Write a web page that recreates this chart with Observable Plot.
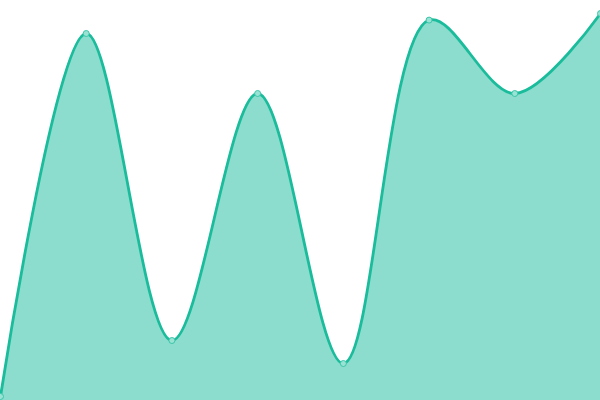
<!DOCTYPE html>
<html>
<head>
<meta charset="utf-8">
<script src="https://cdn.jsdelivr.net/npm/d3@7"></script>
<script src="https://cdn.jsdelivr.net/npm/@observablehq/plot@0.6"></script>
<style>
html, body { margin: 0; padding: 0; background: #fff; }
</style>
</head>
<body>
<div id="chart"></div>
<script>
const xs = [0, 1, 2, 3, 4, 5, 6, 7];
const values = [1, 91.75, 15, 76.75, 9.25, 95.1, 76.75, 96.75];
const data = xs.map((x, i) => ({x, y: values[i]}));

const chart = Plot.plot({
  width: 600,
  height: 400,
  margin: 0,
  x: {domain: [0, 7], range: [0, 600], axis: null},
  y: {domain: [0, 100], range: [400, 0], axis: null},
  marks: [
    Plot.areaY(data, {x: "x", y: "y", curve: "catmull-rom", fill: "#1abc9c", fillOpacity: 0.5}),
    Plot.lineY(data, {x: "x", y: "y", curve: "catmull-rom", stroke: "#1abc9c", strokeWidth: 2.8}),
    Plot.dot(data, {x: "x", y: "y", r: 3, fill: "#9ae3d4", stroke: "#3cc6aa", strokeWidth: 1})
  ]
});
document.getElementById("chart").appendChild(chart);
</script>
</body>
</html>
